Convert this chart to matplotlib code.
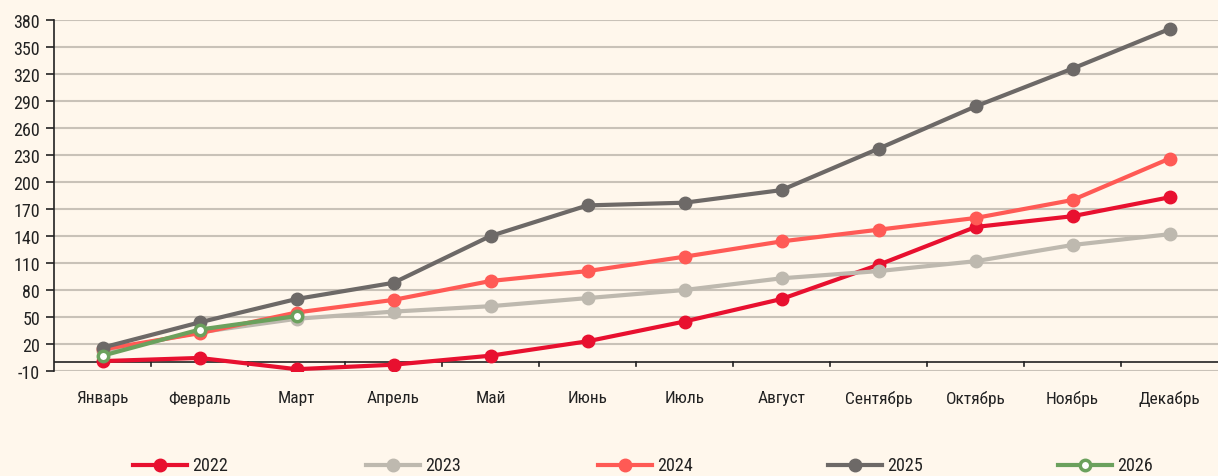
import matplotlib
matplotlib.use("Agg")
import matplotlib.pyplot as plt
from matplotlib.lines import Line2D

plt.rcParams["font.family"] = ["Roboto Condensed", "DejaVu Sans"]

months = ["Январь", "Февраль", "Март", "Апрель", "Май", "Июнь",
          "Июль", "Август", "Сентябрь", "Октябрь", "Ноябрь", "Декабрь"]

y2022 = [1, 4.5, -8, -3, 7, 23, 45, 70, 108, 150, 162, 183]
y2023 = [12, 33, 48, 56, 62, 71, 80, 93, 101, 112, 130, 142]
y2024 = [14, 32, 55, 69, 90, 101, 117, 134, 147, 160, 180, 226]
y2025 = [16, 44, 70, 88, 140, 174, 177, 191, 237, 284, 326, 370]
y2026 = [7, 36, 51]

yticks = list(range(-10, 381, 30))

bg = "#FFF7EC"
series = [
    ("2022", y2022, "#E8102F", False),
    ("2023", y2023, "#BEB9AF", False),
    ("2024", y2024, "#FF5A55", False),
    ("2025", y2025, "#6D6967", False),
    ("2026", y2026, "#6BA15D", True),
]

fig = plt.figure(figsize=(12.18, 4.77), dpi=100, facecolor=bg)
ax = fig.add_axes([54 / 1218, 1 - 372 / 477, 1 - 54 / 1218, (372 - 21) / 477])
ax.set_facecolor(bg)

x = list(range(len(months)))
for name, vals, col, hollow in series:
    xs = x[:len(vals)]
    if hollow:
        ax.plot(xs, vals, color=col, lw=3, marker="o", ms=7.5,
                markerfacecolor="white", markeredgecolor=col, markeredgewidth=2.5,
                zorder=5, solid_capstyle="round")
    else:
        ax.plot(xs, vals, color=col, lw=3, marker="o", ms=9,
                zorder=4, solid_capstyle="round")

ax.set_xlim(-0.5, 11.5)
ax.set_ylim(-10, 380)
ax.set_yticks(yticks)
ax.set_yticklabels([str(v) for v in yticks], fontsize=13, color="#222222")
ax.grid(axis="y", color="#C9C2B8", lw=1.5)
ax.set_axisbelow(True)

# horizontal zero line with category-boundary ticks hanging from it
ax.axhline(0, color="#222222", lw=1.2, zorder=3)
for b in [i + 0.5 for i in range(11)]:
    ax.plot([b, b], [0, -4.5], color="#222222", lw=1.2, zorder=3, clip_on=False)

ax.set_xticks(x)
ax.set_xticklabels(months, fontsize=12.5, color="#222222")
ax.tick_params(axis="x", length=0, pad=14)
ax.tick_params(axis="y", length=6, width=1.2, color="#222222", pad=4)

for s in ("top", "right", "bottom"):
    ax.spines[s].set_visible(False)
ax.spines["left"].set_color("#222222")
ax.spines["left"].set_linewidth(1.2)

# legend along the bottom
centers = [160, 393, 625, 855, 1085]
for (name, vals, col, hollow), cx in zip(series, centers):
    fx = cx / 1218
    fy = 1 - 466 / 477
    fig.add_artist(Line2D([fx - 27 / 1218, fx + 27 / 1218], [fy, fy], color=col,
                          lw=3, transform=fig.transFigure))
    if hollow:
        fig.add_artist(Line2D([fx], [fy], marker="o", ms=7.5, markerfacecolor="white",
                              markeredgecolor=col, markeredgewidth=2.5,
                              transform=fig.transFigure))
    else:
        fig.add_artist(Line2D([fx], [fy], marker="o", ms=9, color=col,
                              transform=fig.transFigure))
    fig.text(fx + 32 / 1218, fy, name, fontsize=13, color="#222222",
             va="center", ha="left")

fig.savefig("out.png", dpi=100, facecolor=bg)
